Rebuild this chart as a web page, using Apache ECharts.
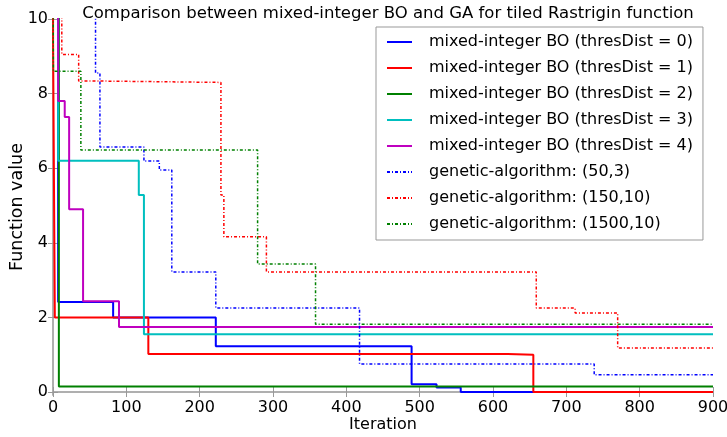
<!DOCTYPE html>
<html>
<head>
<meta charset="utf-8">
<script src="https://cdn.jsdelivr.net/npm/echarts@6/dist/echarts.min.js"></script>
<style>
  html, body { margin: 0; padding: 0; background: #fff; }
  #main { width: 727px; height: 437px; }
</style>
</head>
<body>
<div id="main"></div>
<script>
// step data: [iteration, value]
var names = [
  'mixed-integer BO (thresDist = 0)',
  'mixed-integer BO (thresDist = 1)',
  'mixed-integer BO (thresDist = 2)',
  'mixed-integer BO (thresDist = 3)',
  'mixed-integer BO (thresDist = 4)',
  'genetic-algorithm: (50,3)',
  'genetic-algorithm: (150,10)',
  'genetic-algorithm: (1500,10)'
];
var bo0 = [[0, 12], [7, 2.41], [82, 2.0], [222, 1.23], [489, 0.21], [523, 0.12], [556, 0], [900, 0]];
var bo1 = [[0, 12], [0.1, 9.4], [2.5, 2.0], [130, 1.02], [620, 1.0], [655, 0], [900, 0]];
var bo2 = [[0, 12], [8, 0.15], [900, 0.15]];
var bo3 = [[0, 12], [7, 6.2], [117, 5.28], [124, 1.55], [900, 1.55]];
var bo4 = [[0, 12], [7, 7.8], [16, 7.37], [22, 4.9], [41, 2.43], [90, 1.74], [900, 1.74]];
var ga1 = [[0, 12], [58, 8.55], [64, 6.57], [124, 6.19], [145, 5.95], [162, 3.22], [222, 2.25], [418, 0.75], [738, 0.46], [900, 0.46]];
var ga2 = [[0, 12], [12, 9.05], [35, 8.34], [50, 8.3], [229, 5.28], [233, 4.16], [291, 3.22], [659, 2.25], [712, 2.12], [770, 1.18], [900, 1.18]];
var ga3 = [[0, 12], [0.5, 8.6], [38, 6.49], [279, 3.43], [358, 1.82], [900, 1.82]];
var yTicks = [0, 2, 4, 6, 8, 10];

var colors = ['#0000ff', '#ff0000', '#008000', '#00bfbf', '#bf00bf', '#0000ff', '#ff0000', '#008000'];
var allData = [bo0, bo1, bo2, bo3, bo4, ga1, ga2, ga3];
var font = 'DejaVu Sans';

var series = allData.map(function (d, i) {
  var dotted = i >= 5;
  return {
    name: names[i],
    type: 'line',
    step: 'end',
    data: d,
    symbol: 'none',
    animation: false,
    color: colors[i],
    lineStyle: {
      color: colors[i],
      width: dotted ? 1.5 : 2,
      type: dotted ? [3, 2, 1, 2] : 'solid'
    }
  };
});

var myChart = echarts.init(document.getElementById('main'));
myChart.setOption({
  backgroundColor: '#fff',
  animation: false,
  title: {
    text: 'Comparison between mixed-integer BO and GA for tiled Rastrigin function',
    left: 383,
    textAlign: 'center',
    top: 0,
    textStyle: { fontFamily: font, fontSize: 16.5, fontWeight: 'normal', color: '#000' }
  },
  grid: { left: 53, right: 14, top: 19, bottom: 42, outerBoundsMode: 'none', containLabel: false },
  legend: {
    orient: 'vertical',
    left: 376,
    top: 27,
    padding: [7, 10, 8, 10],
    itemWidth: 25,
    itemHeight: 14,
    itemGap: 10,
    borderColor: '#999',
    borderWidth: 1,
    backgroundColor: '#fff',
    data: names,
    itemStyle: { opacity: 0 },
    textStyle: { fontFamily: font, fontSize: 16, color: '#000', lineHeight: 14, padding: [0, 0, 0, 12] }
  },
  xAxis: [{
    type: 'value',
    min: 0,
    max: 900,
    interval: 100,
    name: 'Iteration',
    nameLocation: 'middle',
    nameGap: 22,
    nameMoveOverlap: false,
    nameTextStyle: { fontFamily: font, fontSize: 16, color: '#000' },
    axisLine: { lineStyle: { color: '#aaa', width: 1.5 } },
    axisTick: { inside: true, length: 5, lineStyle: { color: '#999' } },
    axisLabel: { fontFamily: font, fontSize: 16, color: '#000', margin: 5 },
    splitLine: { show: false }
  }, {
    type: 'value',
    position: 'top',
    min: 0,
    max: 900,
    interval: 100,
    axisLine: { lineStyle: { color: '#aaa', width: 1.5 } },
    axisTick: { inside: true, length: 5, lineStyle: { color: '#999' } },
    axisLabel: { show: false },
    splitLine: { show: false }
  }],
  yAxis: [{
    type: 'value',
    min: -0.08,
    max: 10,
    name: 'Function value',
    nameLocation: 'middle',
    nameGap: 27,
    nameMoveOverlap: false,
    nameTextStyle: { fontFamily: font, fontSize: 17.5, color: '#000' },
    axisLine: { lineStyle: { color: '#aaa', width: 1.5 } },
    axisTick: { inside: true, length: 5, customValues: yTicks, lineStyle: { color: '#999' } },
    axisLabel: { fontFamily: font, fontSize: 16, color: '#000', margin: 5, customValues: yTicks },
    splitLine: { show: false }
  }, {
    type: 'value',
    position: 'right',
    min: -0.08,
    max: 10,
    axisLine: { lineStyle: { color: '#aaa', width: 1.5 } },
    axisTick: { inside: true, length: 5, customValues: yTicks, lineStyle: { color: '#999' } },
    axisLabel: { show: false, customValues: yTicks },
    splitLine: { show: false }
  }],
  series: series
});
</script>
</body>
</html>
